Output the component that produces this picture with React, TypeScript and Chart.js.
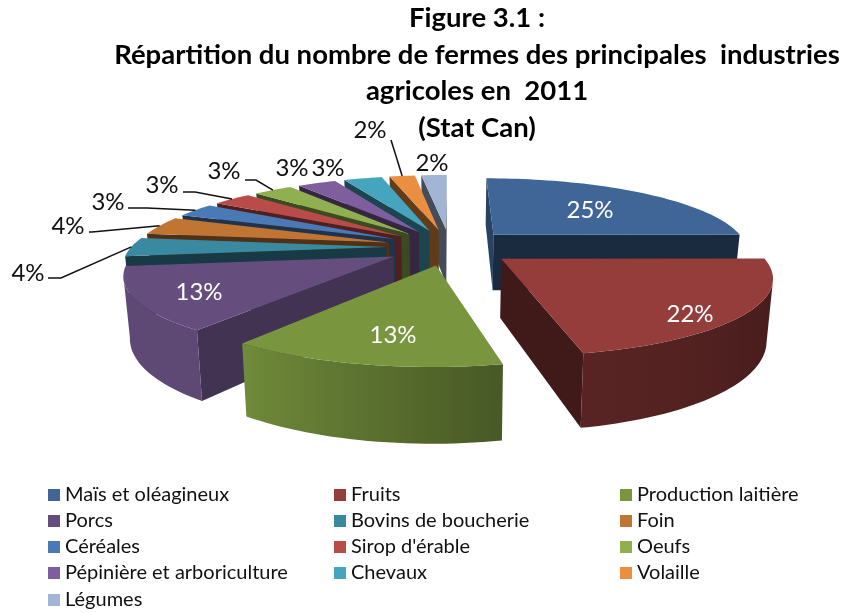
import React, { useEffect, useRef } from "react";
import { Chart, registerables } from "chart.js";

Chart.register(...registerables);

const categories = ["Maïs et oléagineux", "Fruits", "Production laitière", "Porcs", "Bovins de boucherie", "Foin", "Céréales", "Sirop d'érable", "Oeufs", "Pépinière et arboriculture", "Chevaux", "Volaille", "Légumes"];
const shares = [25, 21.7, 13.4, 13, 4, 4, 3, 3, 3, 3, 3, 2, 2];
const sliceColors = ["#3f6697", "#953d3b", "#79963f", "#654e7e", "#398aa1", "#c17533", "#4a7ab6", "#b94c49", "#90b04f", "#7e5e9d", "#45a5bf", "#ea8f3f", "#a3b5d5"];
const titleLines = ["Figure 3.1 :", "Répartition du nombre de fermes des principales  industries", "agricoles en  2011", "(Stat Can)"];

const FONT = "Lato, Carlito, Calibri, sans-serif";

// Projection of the tilted, exploded disc on the canvas.
const view = { hx: 450, hy: 247, ax: 255, by: 72.2, persp: 0.2017, depth: 57.5, explode: 0.25, squeeze: 0.98 };

// Text placement of each value label: centre of text, and optional leader elbow.
const labelLayout: { x: number; y: number; color: string; from?: number[]; elbow?: number[] }[] = [
  { x: 590, y: 210, color: "#fff" },
  { x: 690, y: 314, color: "#fff" },
  { x: 393, y: 335, color: "#fff" },
  { x: 199, y: 292, color: "#fff" },
  { x: 28, y: 273, color: "#111", from: [48, 278], elbow: [61, 278] },
  { x: 68, y: 226, color: "#111", from: [89, 232], elbow: [92, 232] },
  { x: 108, y: 202, color: "#111", from: [128, 208], elbow: [147, 208] },
  { x: 162, y: 185, color: "#111", from: [183, 192], elbow: [195, 192] },
  { x: 224, y: 171, color: "#111", from: [245, 180], elbow: [256, 180] },
  { x: 292, y: 168, color: "#111" },
  { x: 328, y: 168, color: "#111" },
  { x: 370, y: 130, color: "#111", from: [391, 140] },
  { x: 432, y: 163, color: "#111" },
];

const legendLayout = { cols: [48, 334, 620], rows: [495, 521, 547, 573, 600], box: 12, gap: 5, size: 20 };

function mix(hex: string, f: number) {
  const n = parseInt(hex.slice(1), 16);
  const c = [(n >> 16) & 255, (n >> 8) & 255, n & 255].map((v) => Math.round(v * f));
  return `rgb(${c[0]},${c[1]},${c[2]})`;
}

function project(theta: number, r: number, mid: number, lower: boolean) {
  const X = Math.sin(theta) * r + view.explode * Math.sin(mid);
  const Z = Math.cos(theta) * r + view.explode * Math.cos(mid);
  const w = 1 + view.persp * Z;
  let x = (view.ax * X) / w;
  let y = view.hy - (view.by * Z) / w;
  if (lower) {
    x *= view.squeeze;
    y += view.depth / w;
  }
  return { x: view.hx + x, y };
}

// Shade of the rim wall, as a function of the position round the disc.
function rimShade(theta: number) {
  const stops = [[Math.PI * 0.5, 0.42], [Math.PI * 0.94, 0.6], [Math.PI * 1.2, 0.93], [Math.PI * 2, 0.95]];
  for (let i = 1; i < stops.length; i++) {
    if (theta <= stops[i][0]) {
      const t = Math.max(0, (theta - stops[i - 1][0]) / (stops[i][0] - stops[i - 1][0]));
      return stops[i - 1][1] + t * (stops[i][1] - stops[i - 1][1]);
    }
  }
  return 0.9;
}

const pie3d = {
  id: "pie3d",
  beforeDatasetDraw(chart: any) {
    const ctx: CanvasRenderingContext2D = chart.ctx;
    const arcs: any[] = chart.getDatasetMeta(0).data;
    const items = arcs.map((arc, i) => {
      const a = arc.startAngle + Math.PI / 2;
      const b = arc.endAngle + Math.PI / 2;
      return { i, a, b, mid: (a + b) / 2 };
    });
    items.sort((p, q) => Math.cos(q.mid) - Math.cos(p.mid));
    ctx.save();
    ctx.lineJoin = "round";
    for (const it of items) {
      const color = sliceColors[it.i];
      const n = Math.max(4, Math.ceil((it.b - it.a) / 0.03));
      const thetas: number[] = [];
      for (let k = 0; k <= n; k++) thetas.push(it.a + ((it.b - it.a) * k) / n);
      const top = thetas.map((t) => project(t, 1, it.mid, false));
      const low = thetas.map((t) => project(t, 1, it.mid, true));
      const apexT = project(0, 0, it.mid, false);
      const apexL = project(0, 0, it.mid, true);
      const wall = (p: any, q: any, pl: any, ql: any, fill: string) => {
        if (q.x >= p.x) return;
        ctx.fillStyle = fill;
        ctx.beginPath();
        ctx.moveTo(p.x, p.y);
        ctx.lineTo(q.x, q.y);
        ctx.lineTo(ql.x, ql.y);
        ctx.lineTo(pl.x, pl.y);
        ctx.closePath();
        ctx.fill();
      };
      const startShade = it.a < Math.PI * 1.3 ? 0.65 : 0.42;
      wall(apexT, top[0], apexL, low[0], mix(color, startShade));
      wall(top[n], apexT, low[n], apexL, mix(color, 0.42));
      // Rim: one polygon for the part that faces the viewer, shaded along x.
      const vis: number[] = [];
      for (let k = 0; k < n; k++) if (top[k + 1].x < top[k].x) vis.push(k);
      if (vis.length) {
        const first = vis[0];
        const last = vis[vis.length - 1] + 1;
        const x0 = top[first].x;
        const x1 = top[last].x;
        const grad = ctx.createLinearGradient(x0, 0, x1, 0);
        for (let k = first; k <= last; k++) {
          const f = x1 === x0 ? 0 : (top[k].x - x0) / (x1 - x0);
          grad.addColorStop(Math.min(1, Math.max(0, f)), mix(color, rimShade(thetas[k])));
        }
        ctx.fillStyle = grad;
        ctx.beginPath();
        ctx.moveTo(top[first].x, top[first].y);
        for (let k = first + 1; k <= last; k++) ctx.lineTo(top[k].x, top[k].y);
        for (let k = last; k >= first; k--) ctx.lineTo(low[k].x, low[k].y);
        ctx.closePath();
        ctx.fill();
      }
      ctx.fillStyle = color;
      ctx.beginPath();
      ctx.moveTo(apexT.x, apexT.y);
      top.forEach((p) => ctx.lineTo(p.x, p.y));
      ctx.closePath();
      ctx.fill();
    }
    ctx.restore();
    return false;
  },
  afterDraw(chart: any) {
    const ctx: CanvasRenderingContext2D = chart.ctx;
    const arcs: any[] = chart.getDatasetMeta(0).data;
    const values: number[] = chart.data.datasets[0].data;
    ctx.save();
    ctx.textBaseline = "middle";
    ctx.textAlign = "center";
    ctx.font = `24px ${FONT}`;
    values.forEach((v, i) => {
      const l = labelLayout[i];
      if (l.from) {
        const mid = (arcs[i].startAngle + arcs[i].endAngle) / 2 + Math.PI / 2;
        const edge = project(mid, 1, mid, false);
        ctx.strokeStyle = "#111";
        ctx.lineWidth = 1.5;
        ctx.beginPath();
        ctx.moveTo(l.from[0], l.from[1]);
        if (l.elbow) ctx.lineTo(l.elbow[0], l.elbow[1]);
        ctx.lineTo(edge.x, edge.y);
        ctx.stroke();
      }
      ctx.fillStyle = l.color;
      ctx.fillText(`${Math.round(v)}%`, l.x, l.y);
    });
    // Three-column legend
    const L = legendLayout;
    ctx.textAlign = "left";
    ctx.font = `${L.size}px ${FONT}`;
    chart.data.labels.forEach((name: string, i: number) => {
      const x = L.cols[i % 3];
      const y = L.rows[Math.floor(i / 3)];
      ctx.fillStyle = sliceColors[i];
      ctx.fillRect(x, y - L.box / 2, L.box, L.box);
      ctx.fillStyle = "#111";
      ctx.fillText(name, x + L.box + L.gap, y);
    });
    ctx.restore();
  },
};

export default function App() {
  const ref = useRef<HTMLCanvasElement>(null);
  useEffect(() => {
    document.body.style.margin = "0";
    const ctx2d: any = ref.current!.getContext("2d");
    ctx2d.textRendering = "optimizeSpeed";
    const chart = new Chart(ref.current!, {
      type: "pie",
      data: {
        labels: categories,
        datasets: [{ data: shares, backgroundColor: sliceColors, borderWidth: 0 }],
      },
      options: {
        responsive: false,
        animation: false,
        layout: { padding: { left: 111, right: 0, top: 0, bottom: 0 } },
        plugins: {
          legend: { display: false },
          tooltip: { enabled: false },
          title: {
            display: true,
            fullSize: false,
            text: titleLines,
            color: "#000",
            align: "center",
            font: { family: FONT, weight: "bold", size: 27.5, lineHeight: 1.33 },
            padding: { top: 0, bottom: 0 },
          },
        },
      },
      plugins: [pie3d],
    } as any);
    return () => chart.destroy();
  }, []);
  return <canvas ref={ref} width={843} height={613} style={{ display: "block" }} />;
}
